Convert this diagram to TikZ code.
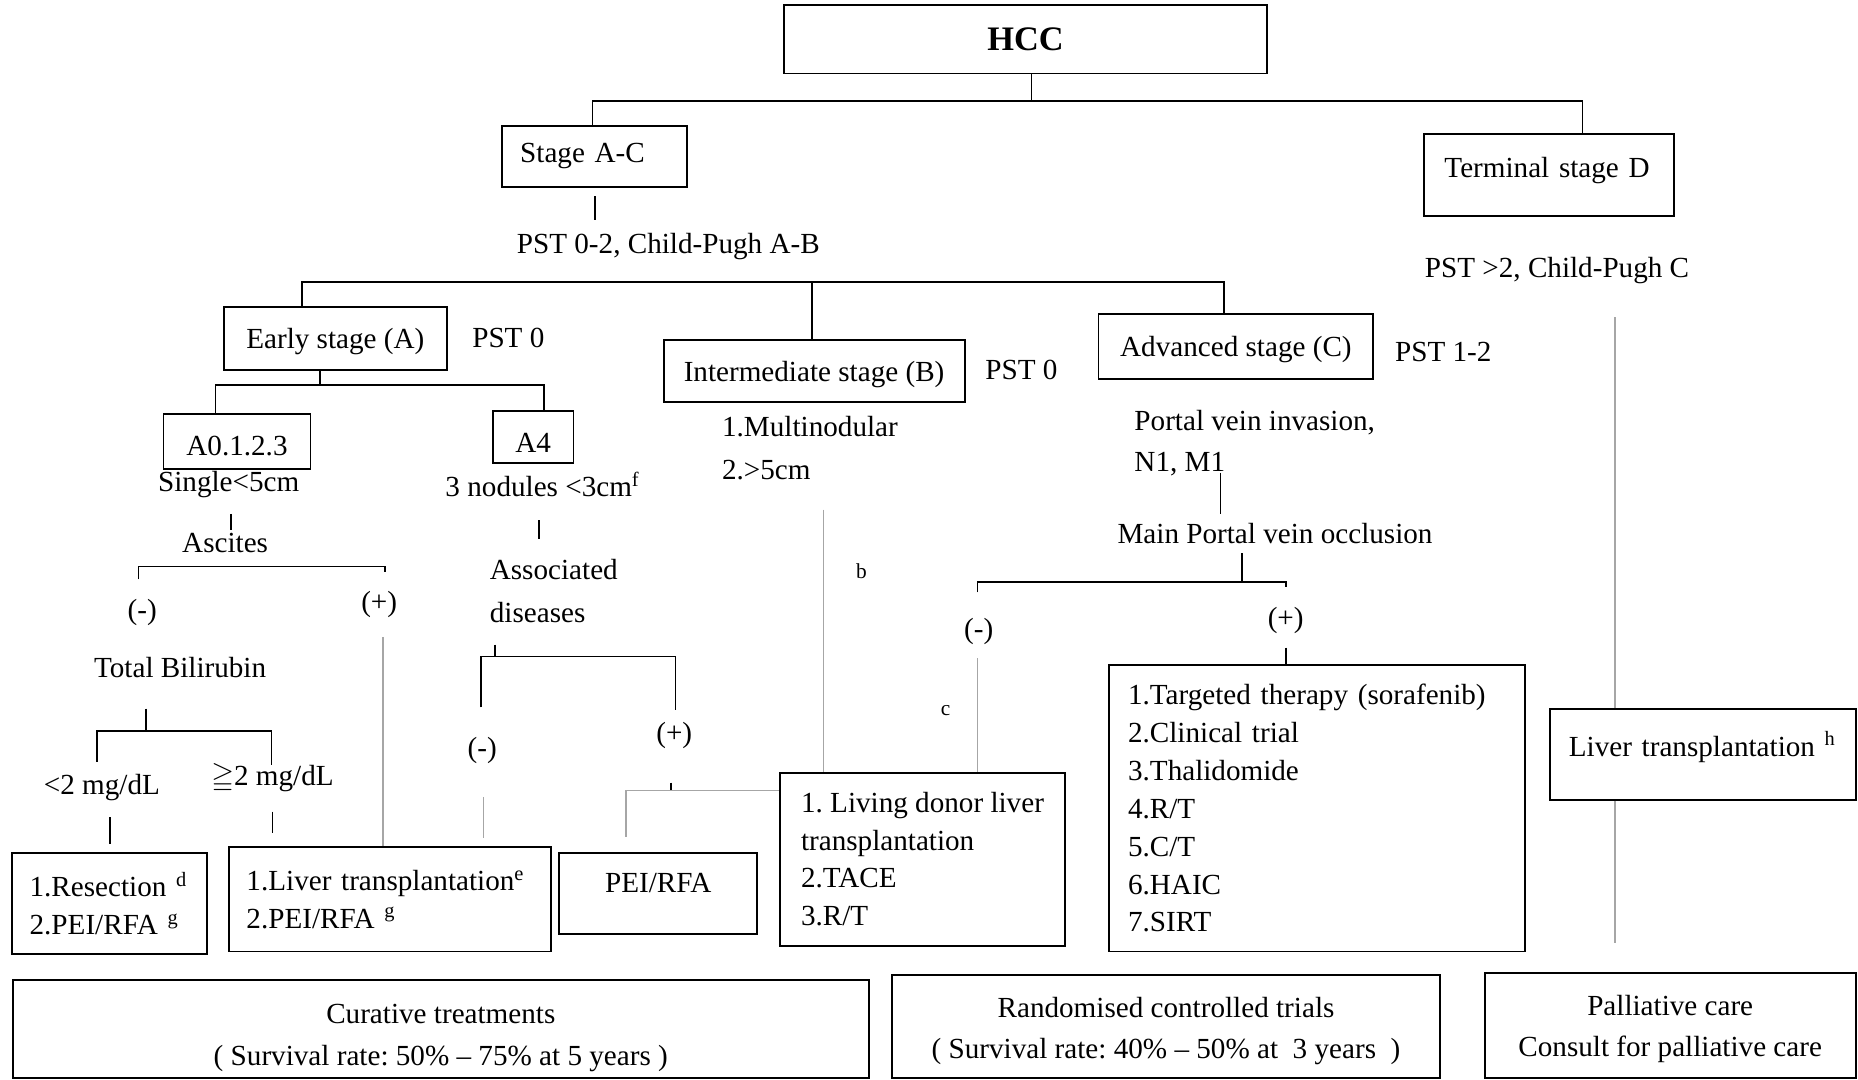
\documentclass[tikz,border=0pt]{standalone}
\usepackage{amssymb}
\usepackage{fontspec}
\setmainfont{Liberation Serif}
\usetikzlibrary{calc}
\frenchspacing
\newcommand{\basefont}{\fontsize{12.3}{16}\selectfont}
\tikzset{
  stagebox/.style={draw, line width=0.8pt, inner sep=0pt, align=center, text depth=0pt, font=\basefont},
  listbox/.style={draw, line width=0.8pt, inner ysep=0pt, align=left, font=\basefont},
  sumbox/.style={draw, line width=0.8pt, inner sep=0pt, align=center, font=\basefont},
  lbl/.style={inner sep=1pt, align=left, font=\basefont},
  footmark/.style={inner sep=1pt, font=\fontsize{9}{11}\selectfont},
  link/.style={line width=0.7pt},
  faint/.style={line width=0.7pt, draw=gray!70}
}

\begin{document}
\begin{tikzpicture}[x=0.5pt,y=0.5pt]
  \useasboundingbox (0,0) rectangle (1568,-911);

  \node[stagebox, minimum width=203.5pt, minimum height=29pt, font=\fontsize{14.5}{17}\selectfont\bfseries] (hcc) at (865.5,-33) {HCC};
  \node[listbox, text width=63pt, inner xsep=7.5pt, minimum height=26pt] (stageac) at (502,-132) {Stage A-C};
  \node[listbox, text width=88.5pt, inner xsep=8.5pt, minimum height=34.5pt, text depth=6.6pt] (term) at (1307.5,-147.5) {Terminal stage D};

  \node[lbl] (pstab) at (564,-208) {PST 0-2, Child-Pugh A-B};
  \node[lbl] (pstc) at (1314,-228) {PST >2, Child-Pugh C};

  \node[stagebox, minimum width=94pt, minimum height=26.5pt] (early) at (283,-285.5) {Early stage (A)};
  \node[stagebox, minimum width=127pt, minimum height=26pt] (inter) at (687,-313) {Intermediate stage (B)};
  \node[stagebox, minimum width=116pt, minimum height=27.5pt] (adv) at (1043,-292.5) {Advanced stage (C)};
  \node[lbl] (psta) at (429,-285) {PST 0};
  \node[lbl] (pstb) at (862,-312) {PST 0};
  \node[lbl] (pstadv) at (1218,-297) {PST 1-2};

  \node[stagebox, minimum width=62pt, minimum height=23.5pt, text height=12.3pt] (azero) at (200,-372.5) {A0.1.2.3};
  \node[stagebox, minimum width=34pt, minimum height=22pt, text height=13pt] (afour) at (450,-369) {A4};
  \node[lbl] (single) at (193,-409) {Single<5cm};
  \node[lbl] (nodules) at (458,-409) {3 nodules <3cm\textsuperscript{f}};
  \node[lbl] (ascites) at (190,-458) {Ascites};
  \node[lbl] (ascneg) at (120,-517) {(-)};
  \node[lbl] (ascpos) at (320,-510) {(+)};
  \node[lbl] (bili) at (152,-563) {Total Bilirubin};
  \node[lbl] (bililow) at (86,-665) {<2 mg/dL};
  \node[lbl] (bilihigh) at (230,-657) {$\geqq$2 mg/dL};
  \node[lbl, anchor=west] (assoc) at (411,-499) {Associated\\[2pt]diseases};
  \node[lbl] (assneg) at (407,-633) {(-)};
  \node[lbl] (asspos) at (569,-621) {(+)};

  \node[lbl, anchor=west] (multi) at (607,-378) {1.Multinodular\\[2pt]2.>5cm};
  \node[footmark] (noteb) at (727,-482) {b};
  \node[footmark] (notec) at (798,-600) {c};

  \node[lbl, anchor=west] (portal) at (955,-374) {Portal vein invasion,\\[1pt]N1, M1};
  \node[lbl] (mainpv) at (1076,-450) {Main Portal vein occlusion};
  \node[lbl] (pvneg) at (826,-533) {(-)};
  \node[lbl] (pvpos) at (1085,-524) {(+)};

  \node[listbox, text width=67.5pt, inner xsep=7.5pt, minimum height=42.5pt] (resect) at (92.5,-762.5) {1.Resection \textsuperscript{d}\\2.PEI/RFA \textsuperscript{g}};
  \node[listbox, text width=121pt, inner xsep=7.5pt, minimum height=44pt] (ltx) at (329,-759) {1.Liver transplantation\textsuperscript{e}\\2.PEI/RFA \textsuperscript{g}};
  \node[stagebox, minimum width=83.5pt, minimum height=34pt, text depth=9pt] (peirfa) at (555.5,-754) {PEI/RFA};
  \node[listbox, minimum width=120.5pt, minimum height=73pt] (ldlt) at (778.5,-725) {1. Living donor liver\\transplantation\\2.TACE\\3.R/T};
  \node[listbox, text width=159.5pt, inner xsep=8pt, minimum height=121pt] (target) at (1111.5,-682) {1.Targeted therapy (sorafenib)\\2.Clinical trial\\3.Thalidomide\\4.R/T\\5.C/T\\6.HAIC\\7.SIRT};
  \node[listbox, text width=113pt, inner xsep=8pt, minimum height=38.5pt, text depth=8.6pt] (livh) at (1437,-636.5) {Liver transplantation \textsuperscript{h}};

  \node[sumbox, minimum width=361pt, minimum height=41.25pt] (curative) at (372,-868.25) {\rule{0pt}{16pt}Curative treatments\\[1.5pt]( Survival rate: 50\% – 75\% at 5 years )};
  \node[sumbox, minimum width=231pt, minimum height=43.25pt] (randomised) at (984,-866.25) {\rule{0pt}{12.5pt}Randomised controlled trials\\[1.5pt]( Survival rate: 40\% – 50\% at\ \ 3 years\ \ )};
  \node[sumbox, minimum width=156.5pt, minimum height=44.25pt] (palliative) at (1409.5,-865.25) {\rule{0pt}{11.5pt}Palliative care\\[1.5pt]Consult for palliative care};

  \coordinate (topbar) at (0,-85);
  \coordinate (stagebar) at (0,-238);
  \coordinate (earlybar) at (0,-325);
  \coordinate (ascbar) at (0,-478);
  \coordinate (assbar) at (0,-554);
  \coordinate (bilibar) at (0,-617);
  \coordinate (peibar) at (0,-667);
  \coordinate (pvbar) at (0,-491);

  \draw[link] ($(hcc.south)+(5,0)$) -- ($(hcc.south |- topbar)+(5,0)$);
  \draw[link] ($(stageac.north)+(-2,0)$) |- ($(term.north |- topbar)+(28,0)$) -- ($(term.north)+(28,0)$);
  \draw[link, shorten <=3.5pt, shorten >=4.5pt] (stageac.south) -- (stageac.south |- pstab.north);
  \draw[link] ($(early.north)+(-28,0)$) |- ($(adv.north |- stagebar)+(-10,0)$) -- ($(adv.north)+(-10,0)$);
  \draw[link] ($(inter.north)+(-2,0)$) -- ($(inter.north |- stagebar)+(-2,0)$);

  \draw[link] ($(early.south)+(-13,0)$) -- ($(early.south |- earlybar)+(-13,0)$);
  \draw[link] ($(azero.north)+(-18,0)$) |- ($(afour.north |- earlybar)+(9,0)$) -- ($(afour.north)+(9,0)$);

  \draw[link, shorten <=5.5pt] ($(single.south)+(2,0)$) -- ($(single.south |- ascites.north)+(2,0)$);
  \draw[link] ($(ascneg.north |- ascbar)+(-3,-11)$) -- ($(ascneg.north |- ascbar)+(-3,0)$) -- ($(ascpos.north |- ascbar)+(5,0)$) -- ++(0,-5);
  \draw[faint] ($(ascpos.south)+(3,-14)$) -- ($(ascpos.south |- ltx.north)+(3,0)$);
  \draw[link] ($(bili.south)+(-29,-24)$) -- ($(bili.south |- bilibar)+(-29,0)$);
  \draw[link] ($(bililow.north |- bilibar)+(-4,-26)$) -- ($(bililow.north |- bilibar)+(-4,0)$) -- ($(bilihigh.north |- bilibar)+(-1,0)$) -- ++(0,-29);
  \draw[link, shorten <=5.5pt, shorten >=3.5pt] ($(bililow.south)+(7,0)$) -- ($(bililow.south |- resect.north)+(7,0)$);
  \draw[link, shorten <=6.5pt, shorten >=5.5pt] (bilihigh.south) -- (bilihigh.south |- ltx.north);

  \draw[link, shorten <=8.5pt, shorten >=7.5pt] ($(nodules.south)+(-3,0)$) -- ($(nodules.south |- assoc.north)+(-3,0)$);
  \draw[link] ($(assneg.north |- assbar)+(11,10)$) -- ($(assneg.north |- assbar)+(11,0)$);
  \draw[link] ($(assneg.north |- assbar)+(-1,-43)$) -- ($(assneg.north |- assbar)+(-1,0)$) -- ($(asspos.north |- assbar)+(1,0)$) -- ++(0,-45);
  \draw[faint, shorten <=13pt, shorten >=3.5pt] ($(assneg.south)+(1,0)$) -- ($(assneg.south |- ltx.north)+(1,0)$);
  \draw[link] ($(asspos.south)+(-3,-26)$) -- ($(asspos.south |- peibar)+(-3,0)$);
  \draw[faint] (ldlt.west |- peibar) -- ($(peirfa.north |- peibar)+(-27,0)$) -- ($(peirfa.north)+(-27,13)$);

  \draw[faint, shorten <=11.5pt] ($(multi.south -| ldlt.north)+(-83.5,0)$) -- ($(ldlt.north)+(-83.5,0)$);

  \draw[link] ($(portal.south -| mainpv.north)+(-46,5)$) -- ($(mainpv.north)+(-46,5)$);
  \draw[link] ($(mainpv.south)+(-28,-6)$) -- ($(mainpv.south |- pvbar)+(-28,0)$);
  \draw[link] ($(pvneg.north |- pvbar)+(-1,-9)$) -- ($(pvneg.north |- pvbar)+(-1,0)$) -- (pvpos.north |- pvbar) -- ++(0,-4);
  \draw[faint, shorten <=4.5pt] ($(pvneg.south)+(-1,0)$) -- ($(pvneg.south |- ldlt.north)+(-1,0)$);
  \draw[link, shorten <=4.5pt] (pvpos.south) -- (pvpos.south |- target.north);

  \draw[faint, shorten <=13pt] ($(pstc.south -| livh.north)+(-74,0)$) -- ($(livh.north)+(-74,0)$);
  \draw[faint, shorten >=12pt] ($(livh.south)+(-74,0)$) -- ($(livh.south |- palliative.north)+(-74,0)$);
\end{tikzpicture}
\end{document}
